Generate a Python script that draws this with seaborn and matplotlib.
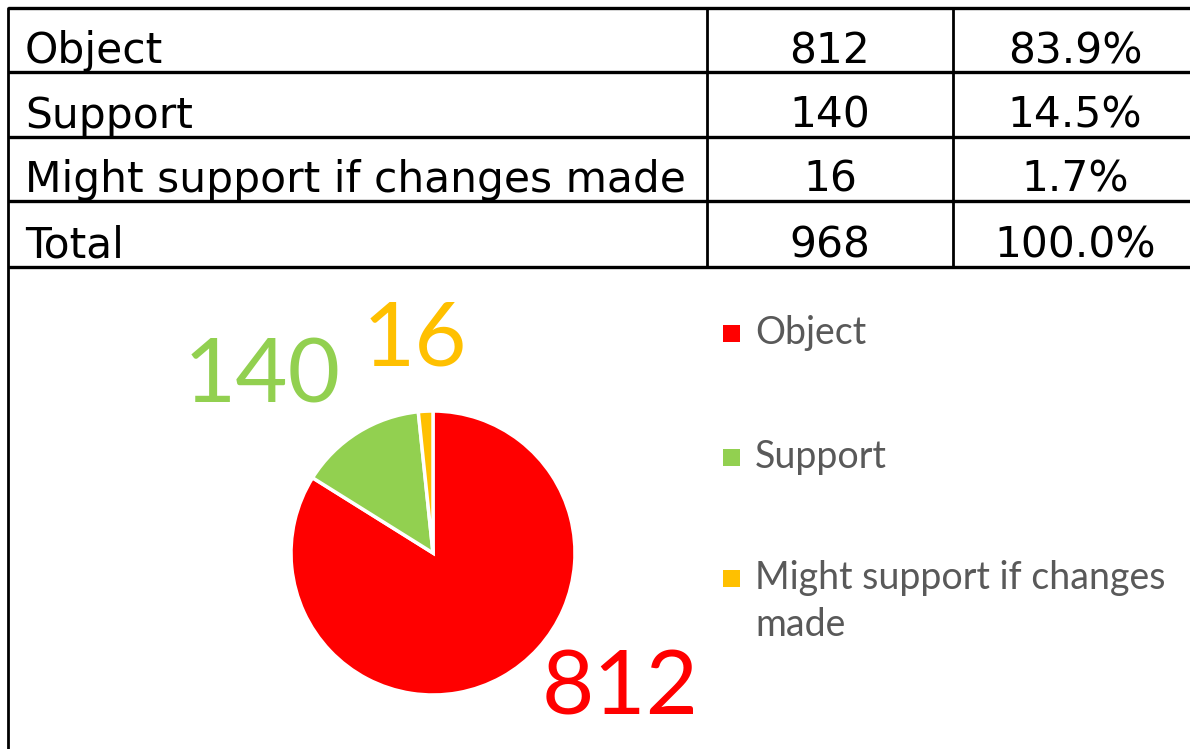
import matplotlib
matplotlib.use("Agg")
import matplotlib.pyplot as plt
import seaborn as sns
import numpy as np
from matplotlib.patches import Rectangle

categories = ["Object", "Support", "Might support if changes made"]
counts = [812, 140, 16]
percents = ["83.9%", "14.5%", "1.7%"]
total_label = "Total"
total_count = 968
total_percent = "100.0%"
legend_labels = ["Object", "Support", "Might support if changes\nmade"]
colors = ["#FF0000", "#92D050", "#FFC000"]

sns.set_theme(style="white")
plt.rcParams['font.family'] = ['DejaVu Sans']

W, H = 1190, 749
fig = plt.figure(figsize=(W / 100, H / 100), dpi=100)
fig.patch.set_facecolor("white")

# table drawn in pixel coordinates
tab = fig.add_axes([0, 0, 1, 1])
tab.set_xlim(0, W)
tab.set_ylim(H, 0)
tab.axis("off")

row_lines = [8, 72, 137, 201, 267]
col_x = [8, 707, 953, 1197]
for y in row_lines:
    tab.plot([col_x[0], W + 10], [y, y], color="black", lw=2.4, solid_capstyle="butt")
for x in col_x[1:3]:
    tab.plot([x, x], [row_lines[0], row_lines[-1]], color="black", lw=2.0)
tab.plot([col_x[0], col_x[0]], [row_lines[0], H], color="black", lw=2.0)

rows = [(c, str(n), p) for c, n, p in zip(categories, counts, percents)]
rows.append((total_label, str(total_count), total_percent))
for i, (name, n, p) in enumerate(rows):
    base = row_lines[i + 1] - 9
    tab.text(25, base, name, fontsize=30.5, va="baseline", ha="left", color="black")
    tab.text((col_x[1] + col_x[2]) / 2, base, n, fontsize=30.5, va="baseline", ha="center", color="black")
    tab.text((col_x[2] + col_x[3]) / 2, base, p, fontsize=30.5, va="baseline", ha="center", color="black")

# pie
cx, cy, r = 433, 553, 142
pie_ax = fig.add_axes([(cx - r) / W, (H - cy - r) / H, 2 * r / W, 2 * r / H])
wedges, _ = pie_ax.pie(counts, colors=colors, startangle=90, counterclock=False,
                       wedgeprops=dict(edgecolor="white", linewidth=2.5))
pie_ax.set_xlim(-1, 1)
pie_ax.set_ylim(-1, 1)

# data labels: distance from centre and angle shift from wedge middle
label_place = [(1.63, 25), (1.725, 12.3), (1.5, 2)]
for w, n, col, (dist, shift) in zip(wedges, counts, colors, label_place):
    ang = np.deg2rad((w.theta1 + w.theta2) / 2 + shift)
    pie_ax.text(dist * np.cos(ang), dist * np.sin(ang), str(n), color=col,
                fontsize=65, family="Lato", ha="center", va="center")

# legend, entries stacked down the right side
leg_y = [333, 457, 578]
for lab, col, y in zip(legend_labels, colors, leg_y):
    tab.add_patch(Rectangle((723, y - 8), 17, 17, facecolor=col, edgecolor="none"))
    for k, line in enumerate(lab.split("\n")):
        tab.text(755, y + 47 * k, line, fontsize=27, family="Lato", color="#595959",
                 ha="left", va="center")

fig.savefig("out.png", dpi=100, facecolor="white")
